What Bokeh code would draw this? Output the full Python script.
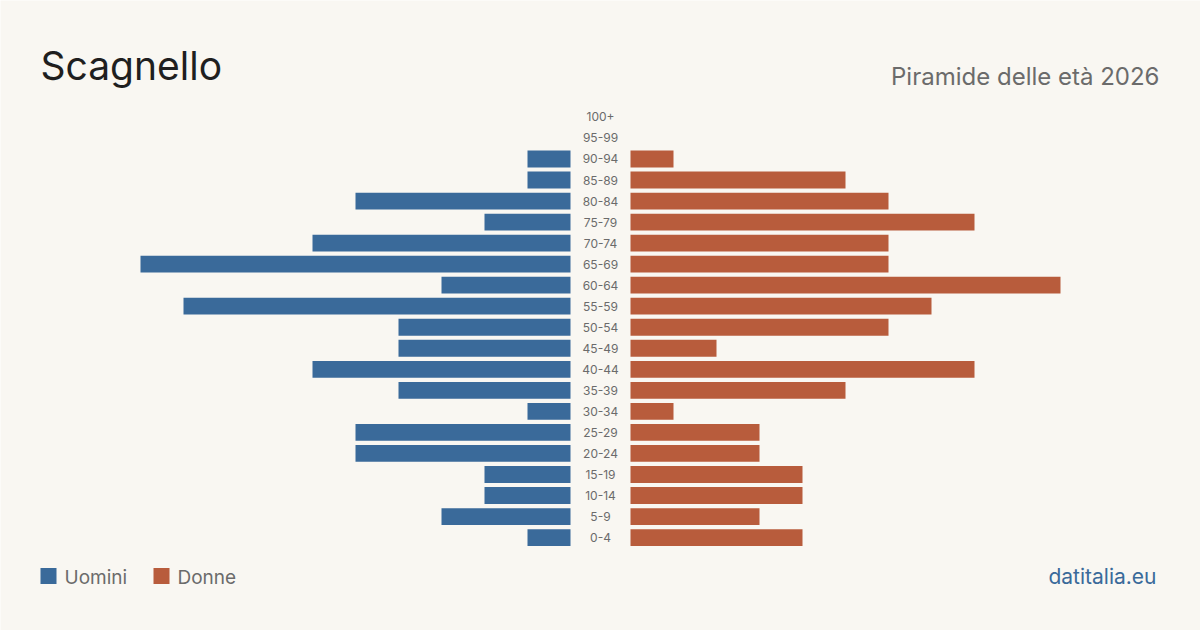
from bokeh.plotting import figure
from bokeh.models import Range1d, Label, ColumnDataSource
from bokeh.core.properties import value
from bokeh.embed import file_html
from bokeh.resources import INLINE

# Age classes, youngest first
age_groups = ["0-4", "5-9", "10-14", "15-19", "20-24", "25-29", "30-34", "35-39",
              "40-44", "45-49", "50-54", "55-59", "60-64", "65-69", "70-74", "75-79",
              "80-84", "85-89", "90-94", "95-99", "100+"]
men = [1, 3, 2, 2, 5, 5, 1, 4, 6, 4, 4, 9, 3, 10, 6, 2, 5, 1, 1, 0, 0]
women = [4, 3, 4, 4, 3, 3, 1, 5, 8, 2, 6, 7, 10, 6, 6, 8, 6, 5, 1, 0, 0]

title_text = "Scagnello"
subtitle_text = "Piramide delle età 2026"
source_text = "datitalia.eu"
men_label = "Uomini"
women_label = "Donne"

BG = "#f9f7f2"
MEN_COLOR = "#3a6a9a"
WOMEN_COLOR = "#b85c3c"
FONT = "Inter"

W, H = 1200, 630
px_per_unit = 43.0
gap = 30.0 / px_per_unit  # half-width of the central label column
row_px = 21.05

ys = list(range(len(age_groups)))
src = ColumnDataSource(dict(
    y=ys,
    men_left=[-gap - v for v in men],
    men_right=[-gap] * len(men),
    women_left=[gap] * len(women),
    women_right=[gap + v for v in women],
    label=age_groups,
))

x0 = -W / 2 / px_per_unit
y_top = (len(age_groups) - 1) + 116.5 / row_px

p = figure(width=W, height=H, output_backend="svg", toolbar_location=None,
           x_range=Range1d(x0, -x0),
           y_range=Range1d(-(H - 537) / row_px, y_top),
           min_border=0, background_fill_color=BG, border_fill_color=BG)
p.axis.visible = False
p.grid.visible = False
p.outline_line_color = None

p.hbar(y="y", left="men_left", right="men_right", height=0.8,
       fill_color=MEN_COLOR, line_color=None, source=src)
p.hbar(y="y", left="women_left", right="women_right", height=0.8,
       fill_color=WOMEN_COLOR, line_color=None, source=src)
p.text(x=0, y="y", text="label", source=src, text_align="center", text_baseline="middle",
       text_font=value(FONT), text_font_size="12px", text_color="#6b6b6b")

p.add_layout(Label(x=40, y=H - 65, x_units="screen", y_units="screen", text=title_text,
                   text_font=FONT, text_font_size="39px", text_color="#1f1f1f",
                   text_baseline="alphabetic"))
p.add_layout(Label(x=1159, y=H - 76, x_units="screen", y_units="screen", text=subtitle_text,
                   text_font=FONT, text_font_size="24px", text_color="#6b6b6b",
                   text_align="right", text_baseline="alphabetic"))

# Legend swatches
p.rect(x=[x0 + 48 / px_per_unit, x0 + 161 / px_per_unit],
       y=[y_top - 576 / row_px] * 2,
       width=16 / px_per_unit, height=16 / row_px,
       fill_color=[MEN_COLOR, WOMEN_COLOR], line_color=None)
p.add_layout(Label(x=64, y=H - 577, x_units="screen", y_units="screen", text=men_label,
                   text_font=FONT, text_font_size="19px", text_color="#6b6b6b",
                   text_baseline="alphabetic"))
p.add_layout(Label(x=177, y=H - 577, x_units="screen", y_units="screen", text=women_label,
                   text_font=FONT, text_font_size="19px", text_color="#6b6b6b",
                   text_baseline="alphabetic"))
p.add_layout(Label(x=1156, y=H - 576, x_units="screen", y_units="screen", text=source_text,
                   text_font=FONT, text_font_size="21px", text_color=MEN_COLOR,
                   text_align="right", text_baseline="alphabetic"))

open("out.html", "w").write(file_html(p, INLINE))
